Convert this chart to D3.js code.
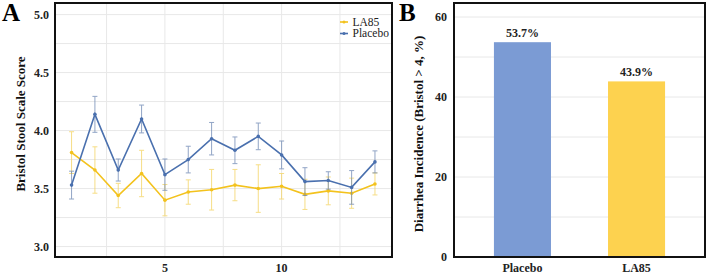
<!DOCTYPE html>
<html>
<head>
<meta charset="utf-8">
<script src="https://cdn.jsdelivr.net/npm/d3@7"></script>
<style>
  body { margin: 0; background: #fff; }
  svg text { font-family: "Liberation Serif", "Times New Roman", serif; }
  .gridline { stroke: #e8e8e8; stroke-width: 1; }
  .tick-label { font-size: 12px; font-weight: bold; fill: #222; }
  .axis-title { font-size: 13px; font-weight: bold; fill: #111; }
  .panel-label { font-size: 25px; font-weight: bold; fill: #000; }
</style>
</head>
<body>
<div id="plot"></div>
<script>
const CANVAS_WIDTH  = 709;
const CANVAS_HEIGHT = 275;

// Panel A data: weekly Bristol scores (mean ± error)
const timepoints   = [1, 2, 3, 4, 5, 6, 7, 8, 9, 10, 11, 12, 13, 14];
const placeboMean  = [3.53, 4.14, 3.66, 4.10, 3.62, 3.75, 3.93, 3.83, 3.95, 3.79, 3.56, 3.57, 3.51, 3.73];
const placeboErr   = [0.12, 0.155, 0.095, 0.12, 0.135, 0.115, 0.14, 0.115, 0.115, 0.12, 0.12, 0.075, 0.145, 0.095];
const la85Mean     = [3.81, 3.66, 3.44, 3.63, 3.40, 3.47, 3.49, 3.53, 3.50, 3.52, 3.45, 3.48, 3.46, 3.54];
const la85Err      = [0.18, 0.20, 0.105, 0.20, 0.135, 0.105, 0.175, 0.135, 0.205, 0.11, 0.13, 0.12, 0.13, 0.095];
const yTicksA      = [3.0, 3.5, 4.0, 4.5, 5.0];
const xTicksA      = [5, 10];

// Panel B data
const groupsB      = ["Placebo", "LA85"];
const incidenceB   = [53.7, 43.9];
const yTicksB      = [0, 20, 40, 60];

const BLUE      = "#4a70ae";
const BLUE_ERR  = "#6d87b3";
const YELLOW    = "#f3c21d";
const YELLOW_ERR= "#f4d35e";
const BAR_COLORS = ["#7b9bd4", "#fdd24f"];

// Panel A layout
const A_LEFT = 55, A_RIGHT = 392, A_TOP = 3, A_BOTTOM = 257;
// Panel B layout
const B_LEFT = 454, B_RIGHT = 705, B_TOP = 3, B_BOTTOM = 257;

var svg = d3.select("#plot")
            .append("svg")
            .attr("width", CANVAS_WIDTH)
            .attr("height", CANVAS_HEIGHT);

// ---------------- Panel A ----------------
var xA = d3.scaleLinear().domain([0.29, 14.73]).range([A_LEFT, A_RIGHT]);
var yA = d3.scaleLinear().domain([2.91, 5.10]).range([A_BOTTOM, A_TOP]);

var gA = svg.append("g");

// gridlines
d3.range(2.5, 14.6, 2.5).forEach(function(v) {
    gA.append("line").attr("class", "gridline")
      .attr("x1", xA(v)).attr("x2", xA(v))
      .attr("y1", A_TOP).attr("y2", A_BOTTOM);
});
d3.range(3.0, 5.01, 0.25).forEach(function(v) {
    gA.append("line").attr("class", "gridline")
      .attr("x1", A_LEFT).attr("x2", A_RIGHT)
      .attr("y1", yA(v)).attr("y2", yA(v));
});

function drawSeries(means, errs, lineColor, errColor) {
    // error bars
    means.forEach(function(m, i) {
        var x = xA(timepoints[i]);
        var g = gA.append("g").attr("stroke", errColor).attr("stroke-width", 1).attr("opacity", 0.75);
        g.append("line").attr("x1", x).attr("x2", x).attr("y1", yA(m - errs[i])).attr("y2", yA(m + errs[i]));
        g.append("line").attr("x1", x - 2.5).attr("x2", x + 2.5).attr("y1", yA(m + errs[i])).attr("y2", yA(m + errs[i]));
        g.append("line").attr("x1", x - 2.5).attr("x2", x + 2.5).attr("y1", yA(m - errs[i])).attr("y2", yA(m - errs[i]));
    });
    var line = d3.line().x((d, i) => xA(timepoints[i])).y(d => yA(d));
    gA.append("path")
      .attr("d", line(means))
      .attr("fill", "none")
      .attr("stroke", lineColor)
      .attr("stroke-width", 1.6);
    gA.selectAll(null)
      .data(means)
      .enter()
      .append("circle")
      .attr("cx", (d, i) => xA(timepoints[i]))
      .attr("cy", d => yA(d))
      .attr("r", 1.8)
      .attr("fill", lineColor);
}

drawSeries(la85Mean, la85Err, YELLOW, YELLOW_ERR);
drawSeries(placeboMean, placeboErr, BLUE, BLUE_ERR);

// frame
gA.append("rect")
  .attr("x", A_LEFT).attr("y", A_TOP)
  .attr("width", A_RIGHT - A_LEFT).attr("height", A_BOTTOM - A_TOP)
  .attr("fill", "none").attr("stroke", "#111").attr("stroke-width", 2);

// tick labels
yTicksA.forEach(function(v) {
    gA.append("text").attr("class", "tick-label")
      .attr("x", A_LEFT - 6).attr("y", yA(v) + 4)
      .attr("text-anchor", "end")
      .text(v.toFixed(1));
});
xTicksA.forEach(function(v) {
    gA.append("text").attr("class", "tick-label")
      .attr("x", xA(v)).attr("y", 272)
      .attr("text-anchor", "middle")
      .text(v);
});

gA.append("text").attr("class", "axis-title")
  .attr("transform", "translate(25,124) rotate(-90)")
  .attr("text-anchor", "middle")
  .text("Bristol Stool Scale Score");

gA.append("text").attr("class", "panel-label")
  .attr("x", 2).attr("y", 21)
  .text("A");

// legend
var legendItems = [{name: "LA85", color: YELLOW}, {name: "Placebo", color: BLUE}];
legendItems.forEach(function(d, i) {
    var ly = 25.5 + i * 11.5;
    gA.append("line")
      .attr("x1", 340).attr("x2", 348)
      .attr("y1", ly - 3.5).attr("y2", ly - 3.5)
      .attr("stroke", d.color).attr("stroke-width", 1.6);
    gA.append("circle").attr("cx", 344).attr("cy", ly - 3.5).attr("r", 1.5).attr("fill", d.color);
    gA.append("text")
      .attr("x", 352.5).attr("y", ly)
      .attr("font-size", "11.5px")
      .attr("fill", "#222")
      .text(d.name);
});

// ---------------- Panel B ----------------
var xB = d3.scaleBand().domain(groupsB).range([B_LEFT, B_RIGHT]).paddingInner(0.5).paddingOuter(0.35);
var yB = d3.scaleLinear().domain([0, 63.5]).range([B_BOTTOM, B_TOP]);

var gB = svg.append("g");

d3.range(10, 61, 10).forEach(function(v) {
    gB.append("line").attr("class", "gridline")
      .attr("x1", B_LEFT).attr("x2", B_RIGHT)
      .attr("y1", yB(v)).attr("y2", yB(v));
});

gB.selectAll("rect.bar")
  .data(incidenceB)
  .enter()
  .append("rect")
  .attr("class", "bar")
  .attr("x", (d, i) => xB(groupsB[i]))
  .attr("y", d => yB(d))
  .attr("width", xB.bandwidth())
  .attr("height", d => yB(0) - yB(d))
  .attr("fill", (d, i) => BAR_COLORS[i]);

gB.selectAll("text.value")
  .data(incidenceB)
  .enter()
  .append("text")
  .attr("class", "tick-label")
  .attr("x", (d, i) => xB(groupsB[i]) + xB.bandwidth() / 2)
  .attr("y", d => yB(d) - 5)
  .attr("text-anchor", "middle")
  .text(d => d.toFixed(1) + "%");

gB.append("rect")
  .attr("x", B_LEFT).attr("y", B_TOP)
  .attr("width", B_RIGHT - B_LEFT).attr("height", B_BOTTOM - B_TOP)
  .attr("fill", "none").attr("stroke", "#111").attr("stroke-width", 2);

yTicksB.forEach(function(v) {
    gB.append("text").attr("class", "tick-label")
      .attr("x", B_LEFT - 7).attr("y", yB(v) + 4)
      .attr("text-anchor", "end")
      .text(v);
});
groupsB.forEach(function(g) {
    gB.append("text").attr("class", "tick-label")
      .attr("x", xB(g) + xB.bandwidth() / 2).attr("y", 272)
      .attr("text-anchor", "middle")
      .text(g);
});

gB.append("text").attr("class", "axis-title")
  .attr("transform", "translate(423,134) rotate(-90)")
  .attr("text-anchor", "middle")
  .text("Diarrhea Incidence (Bristol > 4, %)");

gB.append("text").attr("class", "panel-label")
  .attr("x", 399).attr("y", 21)
  .text("B");
</script>
</body>
</html>
